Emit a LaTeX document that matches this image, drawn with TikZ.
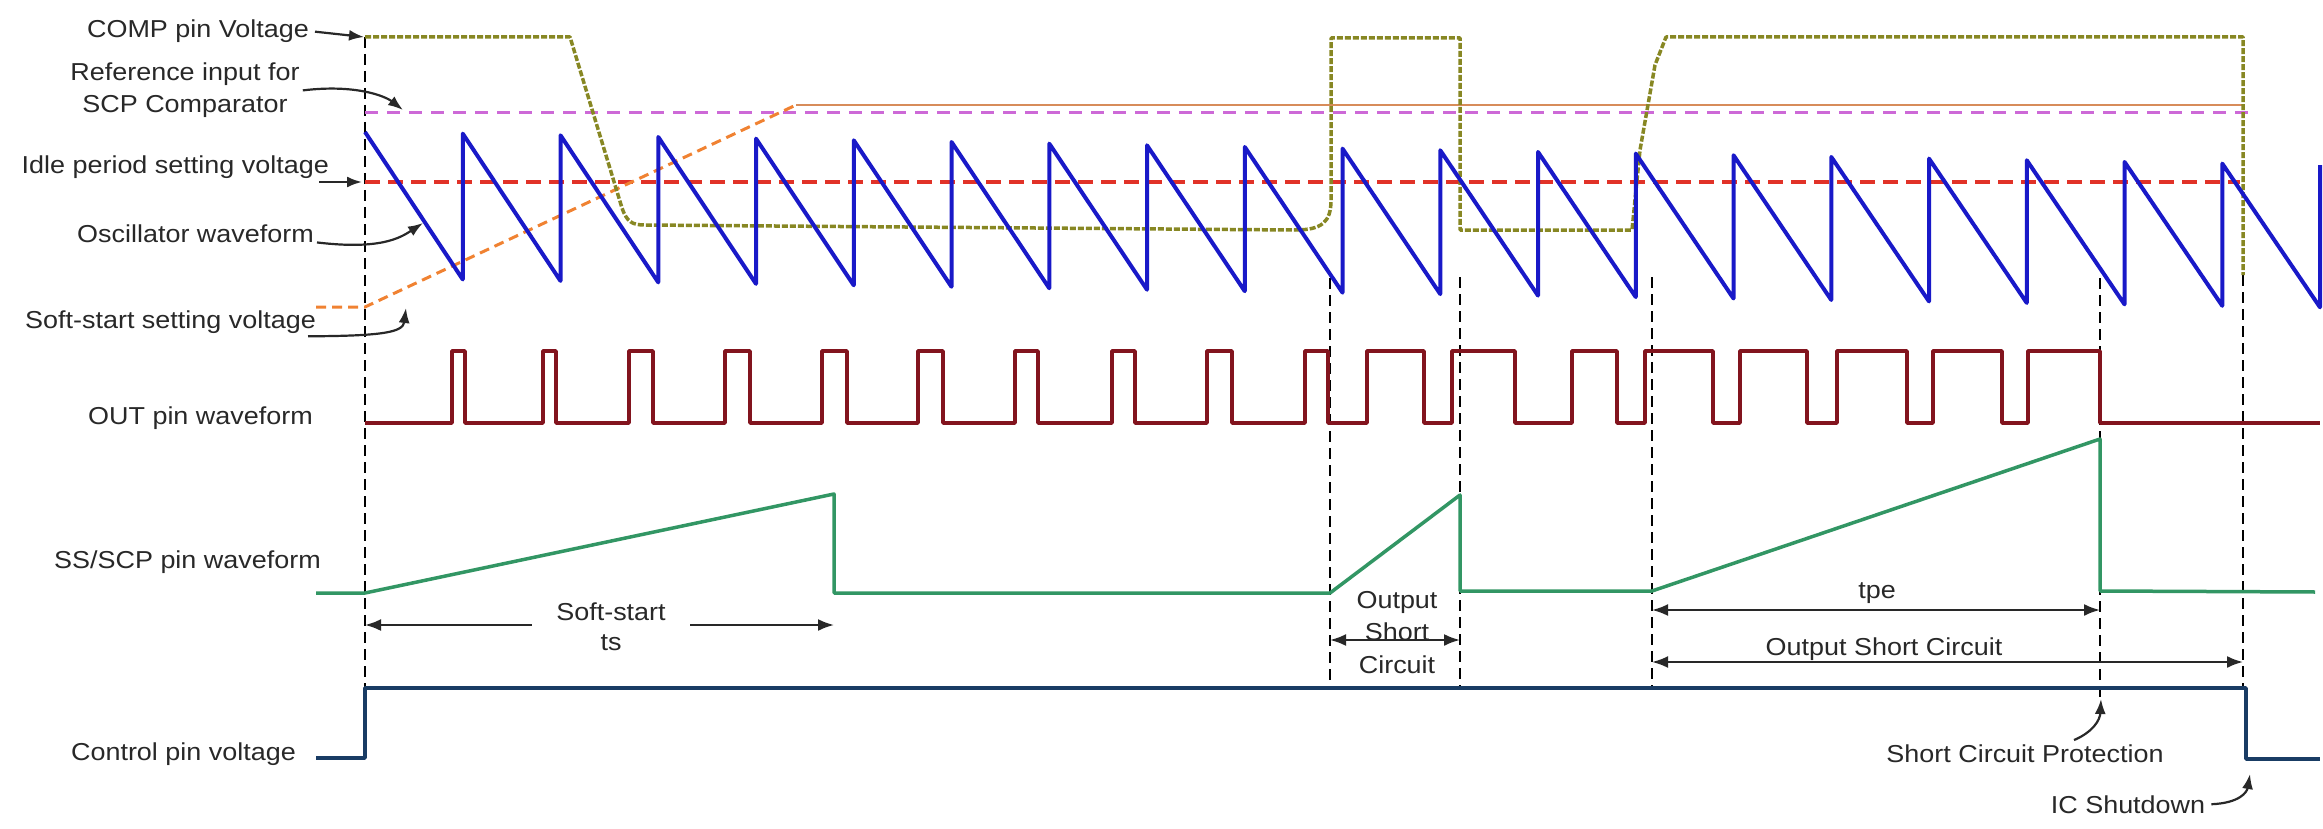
\documentclass[tikz,border=0pt]{standalone}
\usepackage{fontspec}
\setmainfont{Liberation Sans}[FakeStretch=1.1]
\usetikzlibrary{arrows.meta}
\definecolor{compc}{RGB}{135,135,35}
\definecolor{refc}{RGB}{205,105,215}
\definecolor{idlec}{RGB}{225,50,40}
\definecolor{ssvc}{RGB}{240,130,50}
\definecolor{ssflat}{RGB}{215,140,90}
\definecolor{oscc}{RGB}{25,25,200}
\definecolor{outc}{RGB}{130,20,30}
\definecolor{sspc}{RGB}{50,150,100}
\definecolor{ctlc}{RGB}{25,60,100}
\definecolor{txtc}{RGB}{40,40,40}
\begin{document}
\begin{tikzpicture}[x=1pt,y=-1pt,
  lbl/.style={font=\fontsize{24.5}{32.5}\selectfont, inner sep=0pt, text=txtc},
  wave/.style={line width=3.5pt, line join=round},
  compw/.style={wave, draw=compc, dash pattern=on 6pt off 2pt},
  refw/.style={line width=3pt, draw=refc, dash pattern=on 13pt off 9pt},
  idlew/.style={line width=3.5pt, draw=idlec, dash pattern=on 15pt off 8pt},
  ssvw/.style={line width=3pt, draw=ssvc, dash pattern=on 10pt off 6pt},
  ssfw/.style={line width=2pt, draw=ssflat},
  oscw/.style={wave, draw=oscc, line width=4pt},
  outw/.style={wave, draw=outc},
  sspw/.style={wave, draw=sspc},
  ctlw/.style={wave, draw=ctlc},
  vdash/.style={line width=2.5pt, draw=black, dash pattern=on 11pt off 6pt},
  ann/.style={line width=2.2pt, draw=txtc, -{Latex[length=15pt,width=11pt]}},
  dim/.style={line width=2.2pt, draw=txtc, {Latex[length=16pt,width=12pt]}-{Latex[length=16pt,width=12pt]}}
]
\useasboundingbox (0,0) rectangle (2323,829);

% ---------- vertical dashed markers ----------
\draw[vdash] (365,37) -- (365,688);
\draw[vdash] (1330,278) -- (1330,688);
\draw[vdash] (1460,277) -- (1460,688);
\draw[vdash] (1652,277) -- (1652,688);
\draw[vdash] (2100,278) -- (2100,698);
\draw[vdash] (2243,275) -- (2243,688);

% ---------- reference levels ----------
\draw[refw] (365,113) -- (2248,113);
\draw[idlew] (365,182) -- (2240,182);
\draw[ssvw] (316,307) -- (365,307) -- (796,105);
\draw[ssfw] (796,105) -- (2243,105);

% ---------- COMP pin voltage ----------
\draw[compw] (365,37) -- (570,37) -- (622,208) .. controls (627,222) and (632,225) .. (645,225)
  -- (1295,230) .. controls (1322,230) and (1331,222) .. (1331,200) -- (1331,38) -- (1460,38)
  -- (1460,230) -- (1632,230) -- (1640,150) -- (1655,65) -- (1666,37) -- (2243,37) -- (2243,275);

% ---------- oscillator sawtooth ----------
\draw[oscw] (365,132) \foreach \k in {1,...,20}{
  -- ({365+97.75*\k},{278+1.466*\k}) -- ({365+97.75*\k},{132+1.662*\k}) };

% ---------- OUT pin ----------
\draw[outw] (365,423) -| (452,351) -| (465,423) -| (543,351) -| (556,423) -| (629,351) -| (653,423)
  -| (725,351) -| (750,423) -| (822,351) -| (847,423) -| (918,351) -| (943,423) -| (1015,351)
  -| (1038,423) -| (1112,351) -| (1135,423) -| (1207,351) -| (1232,423) -| (1305,351) -| (1328,423)
  -| (1367,351) -| (1424,423) -| (1452,351) -| (1515,423) -| (1572,351) -| (1617,423) -| (1645,351)
  -| (1713,423) -| (1740,351) -| (1807,423) -| (1837,351) -| (1907,423) -| (1933,351) -| (2002,423)
  -| (2028,351) -| (2100,423) -- (2320,423);

% ---------- SS/SCP pin ----------
\draw[sspw] (316,593) -- (365,593) -- (834,494) -- (834,593) -- (1330,593) -- (1460,495)
  -- (1460,591) -- (1652,591) -- (2100,439) -- (2100,591) -- (2315,592);

% ---------- Control pin ----------
\draw[ctlw] (316,758) -- (365,758) -- (365,688) -- (2246,688) -- (2246,759) -- (2320,759);

% ---------- left labels ----------
\node[lbl, anchor=base east] (cmpL) at (309,38) {COMP pin Voltage};
\node[lbl, anchor=base, align=center] (refL) at (185,113) {Reference input for\\SCP Comparator};
\node[lbl, anchor=base east] (idleL) at (329,174) {Idle period setting voltage};
\node[lbl, anchor=base east] (oscL) at (314,242) {Oscillator waveform};
\node[lbl, anchor=base east] (ssvL) at (316,328) {Soft-start setting voltage};
\node[lbl, anchor=base east] (outL) at (313,424) {OUT pin waveform};
\node[lbl, anchor=base east] (sspL) at (321,568) {SS/SCP pin waveform};
\node[lbl, anchor=base east] (ctlL) at (296,760) {Control pin voltage};

% annotation targets
\coordinate (cmpT) at (364,37);
\coordinate (refT) at (403,110);
\coordinate (idleS) at (319,182);
\coordinate (idleT) at (362,182);
\coordinate (oscT) at (423,223);
\coordinate (ssvT) at (406,308);
\coordinate (scpTip) at (2101,699);
\coordinate (icTip) at (2250,774);

\draw[ann] ([xshift=6pt]cmpL.east) -- (cmpT);
\draw[ann] ([xshift=3pt]refL.east) .. controls (355,84) and (385,96) .. (refT);
\draw[ann] (idleS) -- (idleT);
\draw[ann] ([xshift=3pt]oscL.south east) .. controls (380,250) and (400,238) .. (oscT);
\draw[ann] ([xshift=-8pt,yshift=-3pt]ssvL.south east) .. controls (385,336) and (403,332) .. (ssvT);

% ---------- dimension arrows ----------
\coordinate (ssA) at (365,625);
\coordinate (ssB) at (834,625);
\draw[dim] (ssA) -- (ssB);
\node[lbl, fill=white, inner xsep=24pt, inner ysep=1pt, align=center, font=\fontsize{24.5}{30}\selectfont, anchor=base] (ssT) at (611,650) {Soft-start\\ts};

\coordinate (o1A) at (1330,640);
\coordinate (o1B) at (1460,640);
\draw[dim] (o1A) -- (o1B);
\node[lbl, align=center, anchor=base] (o1T) at (1397,673) {Output\\Short\\Circuit};

\coordinate (tpA) at (1652,610);
\coordinate (tpB) at (2100,610);
\draw[dim] (tpA) -- (tpB);
\node[lbl, anchor=base] (tpT) at (1877,598) {tpe};

\coordinate (o2A) at (1652,662);
\coordinate (o2B) at (2243,662);
\draw[dim] (o2A) -- (o2B);
\node[lbl, anchor=base] (o2T) at (1884,655) {Output Short Circuit};

% ---------- bottom annotations ----------
\node[lbl, anchor=base] (scpT) at (2025,762) {Short Circuit Protection};
\node[lbl, anchor=base] (icT) at (2128,813) {IC Shutdown};
\draw[ann] ([xshift=49pt,yshift=4pt]scpT.north) .. controls (2093,732) and (2100,720) .. (scpTip);
\draw[ann] ([xshift=6pt]icT.east) .. controls (2240,803) and (2247,792) .. (icTip);
\end{tikzpicture}
\end{document}
